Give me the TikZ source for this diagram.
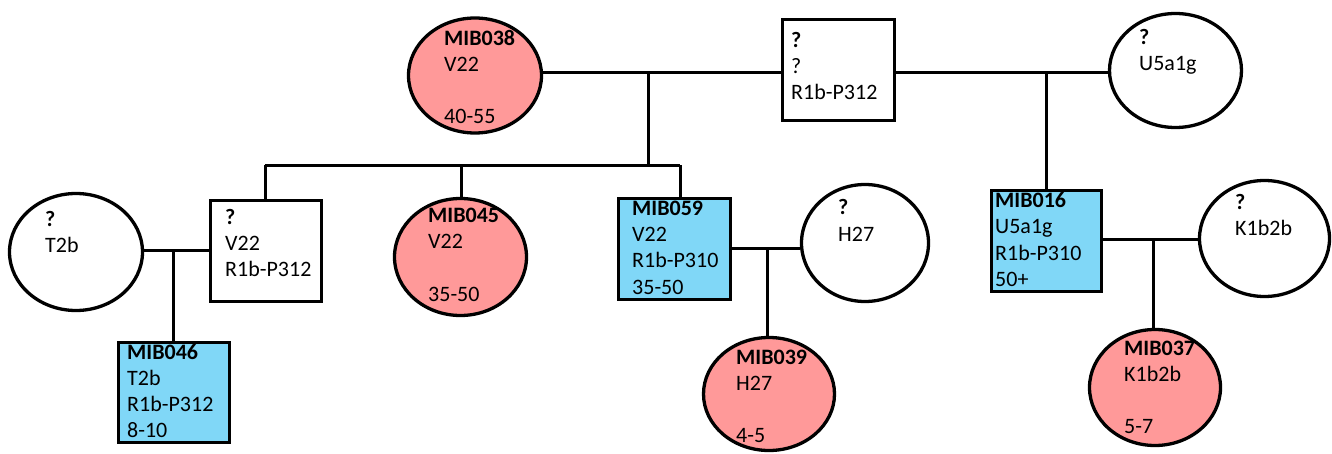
\documentclass[tikz,border=0pt]{standalone}
\usepackage{fontspec}
\setmainfont{Carlito}
\usetikzlibrary{shapes.geometric}
\definecolor{femfill}{RGB}{255,153,153}
\definecolor{malefill}{RGB}{128,215,247}
\begin{document}
\begin{tikzpicture}[x=1pt,y=-1pt,
  shp/.style={draw=black,line width=3.3pt,inner sep=0pt},
  fem/.style={shp,ellipse},
  male/.style={shp,rectangle},
  link/.style={draw=black,line width=3pt},
  txt/.style={anchor=base west,inner sep=0pt,font=\fontsize{22}{26}\selectfont}
]
\fill[white] (0,0) rectangle (1332,454);
\useasboundingbox (0,0) rectangle (1332,454);
% shapes
\node[fem,fill=femfill,minimum width=133,minimum height=115] (m038) at (475,75.5) {};
\node[male,fill=white,minimum width=112,minimum height=101] (btop) at (838.5,70) {};
\node[fem,fill=white,minimum width=132,minimum height=114] (u5) at (1175.5,70.5) {};
\node[male,fill=malefill,minimum width=110,minimum height=101] (m016) at (1046.5,241) {};
\node[fem,fill=white,minimum width=130,minimum height=116] (k1) at (1264.5,238.5) {};
\node[fem,fill=femfill,minimum width=131,minimum height=116] (m037) at (1155,387.5) {};
\node[fem,fill=white,minimum width=133,minimum height=117] (t2b) at (76,252) {};
\node[male,fill=white,minimum width=111,minimum height=101] (bv22) at (266,251) {};
\node[male,fill=malefill,minimum width=111,minimum height=100] (m046) at (174,392.5) {};
\node[fem,fill=femfill,minimum width=132,minimum height=117] (m045) at (460.5,257) {};
\node[male,fill=malefill,minimum width=112,minimum height=101] (m059) at (674.5,249) {};
\node[fem,fill=white,minimum width=127,minimum height=117] (h27) at (865,243) {};
\node[fem,fill=femfill,minimum width=131,minimum height=113] (m039) at (769,394) {};
% junction coordinates
\coordinate (u1) at (648,73);
\coordinate (s1) at (648,165.5);
\coordinate (sl) at (265,165.5);
\coordinate (s45) at (461,165.5);
\coordinate (s59) at (680,165.5);
\coordinate (u2) at (1046,73);
\coordinate (u3) at (1153,240);
\coordinate (u4) at (173,251);
\coordinate (u6) at (767,249);
% connectors
\draw[link] (m038.east |- u1) -- (btop.west |- u1);
\draw[link] (u1) -- (s1);
\draw[link] (sl) -- (s59);
\draw[link] (sl) -- (sl |- bv22.north);
\draw[link] (s45) -- (s45 |- m045.north);
\draw[link] (s59) -- (s59 |- m059.north);
\draw[link] (btop.east |- u2) -- (u5.west |- u2);
\draw[link] (u2) -- (u2 |- m016.north);
\draw[link] (m016.east |- u3) -- (k1.west |- u3);
\draw[link] (u3) -- (u3 |- m037.north);
\draw[link] (t2b.east |- u4) -- (bv22.west |- u4);
\draw[link] (u4) -- (u4 |- m046.north);
\draw[link] (m059.east |- u6) -- (h27.west |- u6);
\draw[link] (u6) -- (u6 |- m039.north);
% texts
\node[txt] (t038) at (444,46) {\begin{tabular}[t]{@{}l@{}}\textbf{MIB038}\\V22\\ \\40-55\end{tabular}};
\node[txt] (ttop) at (791,48) {\begin{tabular}[t]{@{}l@{}}\textbf{?}\\?\\R1b-P312\end{tabular}};
\node[txt] (tu5) at (1139,45) {\begin{tabular}[t]{@{}l@{}}\textbf{?}\\U5a1g\end{tabular}};
\node[txt] (t016) at (995,208) {\begin{tabular}[t]{@{}l@{}}\textbf{MIB016}\\U5a1g\\R1b-P310\\50+\end{tabular}};
\node[txt] (tk1) at (1235,210) {\begin{tabular}[t]{@{}l@{}}\textbf{?}\\K1b2b\end{tabular}};
\node[txt] (t037) at (1124,355) {\begin{tabular}[t]{@{}l@{}}\textbf{MIB037}\\K1b2b\\ \\5-7\end{tabular}};
\node[txt] (tt2b) at (45,227) {\begin{tabular}[t]{@{}l@{}}\textbf{?}\\T2b\end{tabular}};
\node[txt] (tv22) at (225,225) {\begin{tabular}[t]{@{}l@{}}\textbf{?}\\V22\\R1b-P312\end{tabular}};
\node[txt] (t046) at (127,359) {\begin{tabular}[t]{@{}l@{}}\textbf{MIB046}\\T2b\\R1b-P312\\8-10\end{tabular}};
\node[txt] (t045) at (428,223) {\begin{tabular}[t]{@{}l@{}}\textbf{MIB045}\\V22\\ \\35-50\end{tabular}};
\node[txt] (t059) at (632,216) {\begin{tabular}[t]{@{}l@{}}\textbf{MIB059}\\V22\\R1b-P310\\35-50\end{tabular}};
\node[txt] (th27) at (838,215) {\begin{tabular}[t]{@{}l@{}}\textbf{?}\\H27\end{tabular}};
\node[txt] (t039) at (736,364) {\begin{tabular}[t]{@{}l@{}}\textbf{MIB039}\\H27\\ \\4-5\end{tabular}};
\end{tikzpicture}
\end{document}
